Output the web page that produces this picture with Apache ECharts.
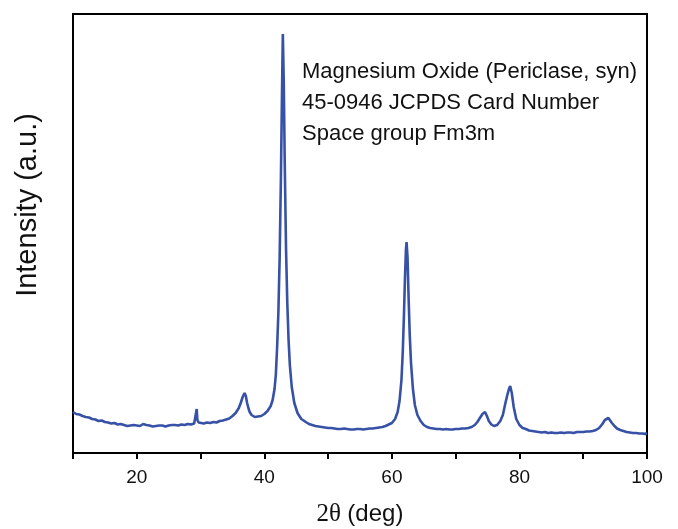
<!DOCTYPE html>
<html>
<meta charset="utf-8">
<head>
	<title>XRD MgO</title>
	<script src="https://cdn.jsdelivr.net/npm/echarts@6/dist/echarts.min.js"></script>
	<style type="text/css">
		html,body{margin:0;padding:0;background:#fff;}
		#main{width:678px;height:529px;}
	</style>
</head>
<body>
<div id="main"></div>
<script type="text/javascript">
// 2θ (deg) positions
var twoTheta = [
	10, 10.5, 11, 11.5, 12, 12.5, 13, 13.5, 14, 14.5, 15, 15.5, 16, 16.5, 17, 17.5, 18, 18.5, 19, 19.5,
	20, 20.5, 21, 21.5, 22, 22.5, 23, 23.5, 24, 24.5, 25, 25.5, 26, 26.5, 27, 27.5, 28, 28.5, 29, 29.3,
	29.4, 29.5, 29.7, 30, 30.5, 31, 31.5, 32, 32.5, 33, 33.5, 34, 34.5, 35, 35.5, 36, 36.3, 36.6, 36.9, 37.1,
	37.3, 37.5, 37.7, 38, 38.5, 39, 39.5, 40, 40.5, 41, 41.3, 41.6, 41.8, 42, 42.2, 42.4, 42.6, 42.75, 42.9, 43.05,
	43.2, 43.4, 43.6, 43.8, 44, 44.3, 44.7, 45.2, 45.8, 46.5, 47, 47.5, 48, 48.5, 49, 49.5, 50, 50.5, 51, 51.5,
	52, 52.5, 53, 53.5, 54, 54.5, 55, 55.5, 56, 56.5, 57, 57.5, 58, 58.5, 59, 59.5, 60, 60.5, 60.9, 61.2,
	61.5, 61.7, 61.9, 62.05, 62.2, 62.3, 62.45, 62.6, 62.8, 63, 63.3, 63.6, 64, 64.5, 65, 65.5, 66, 66.5, 67, 67.5,
	68, 68.5, 69, 69.5, 70, 70.5, 71, 71.5, 72, 72.5, 73, 73.4, 73.8, 74.2, 74.6, 74.9, 75.2, 75.6, 76, 76.5,
	77, 77.4, 77.8, 78.1, 78.35, 78.55, 78.8, 79.1, 79.5, 80, 80.5, 81, 81.5, 82, 82.5, 83, 83.5, 84, 84.5, 85,
	85.5, 86, 86.5, 87, 87.5, 88, 88.5, 89, 89.5, 90, 90.5, 91, 91.5, 92, 92.5, 93, 93.4, 93.7, 93.95, 94.2,
	94.5, 94.9, 95.3, 95.8, 96.3, 96.8, 97.3, 97.8, 98.3, 98.8, 99.3, 99.7, 100
];
// intensity in arbitrary units (0 = bottom of frame, 439 = top)
var intensity = [
	41, 39, 38.5, 37, 36, 35.5, 34, 33.5, 32, 32.5, 31, 30.5, 29.5, 30, 28.5, 29, 28, 27, 27.5, 28,
	27.5, 27, 29, 28, 27.5, 26.5, 27, 27.5, 27.5, 26.5, 27.5, 28, 28, 27.5, 28.5, 28, 29, 28.5, 29.5, 30,
	44, 33, 30.5, 30, 29.5, 30.5, 30, 31, 30.5, 32, 32.5, 33.5, 34.5, 37, 40, 45, 50, 56, 60, 57,
	50, 45, 41, 38, 36, 36.5, 37, 39, 42, 47, 53, 64, 78, 105, 140, 195, 275, 350, 419, 370,
	290, 205, 150, 113, 88, 66, 50, 40, 34, 31, 29, 28, 27, 26.5, 26, 25.5, 25, 25, 24.5, 24,
	24, 24.5, 24, 23.5, 23.5, 24, 24, 23.5, 24, 24.5, 24.5, 25, 25.5, 26, 27, 28.5, 30, 34, 41, 52,
	73, 100, 140, 175, 203, 211, 196, 160, 118, 90, 64, 48, 38, 32, 28, 26, 25, 24.5, 24, 24,
	23.5, 24, 23.5, 23.5, 24, 24, 24.5, 24.5, 25, 26, 28, 31, 35, 39, 41, 37, 32, 28.5, 27, 28,
	32, 38, 50, 58, 64, 67, 60, 46, 34, 28, 25, 24, 22.5, 22, 21.5, 21, 20.5, 21, 20, 20.5,
	20, 20, 20.5, 20, 20.5, 20.5, 20, 21, 21, 21, 21.5, 21.5, 22, 23, 25, 29, 33, 35, 35, 33.5,
	30, 27, 24.5, 23, 22, 21, 20.5, 20, 20, 19.5, 19.5, 19, 20
];
var xTicks = [10, 20, 30, 40, 50, 60, 70, 80, 90, 100];
var xLabels = [20, 40, 60, 80, 100];
var noteLines = [
	'Magnesium Oxide (Periclase, syn)',
	'45-0946 JCPDS Card Number',
	'Space group Fm3m'
];

var pts = twoTheta.map(function (t, i) { return [t, intensity[i]]; });

var chart = echarts.init(document.getElementById('main'), null, {renderer: 'canvas'});
var option = {
	animation: false,
	backgroundColor: '#fff',
	textStyle: {fontFamily: 'Liberation Sans, Arial, sans-serif'},
	grid: {
		left: 73, right: 31, top: 14, bottom: 76,
		show: true, borderColor: '#000', borderWidth: 2
	},
	xAxis: {
		type: 'value',
		min: xTicks[0], max: xTicks[xTicks.length - 1], interval: 10,
		axisLine: {onZero: false, lineStyle: {color: '#000', width: 2}},
		axisTick: {inside: false, length: 6, lineStyle: {color: '#000', width: 2}},
		axisLabel: {
			color: '#111', fontSize: 19, margin: 15,
			formatter: function (v) { return xLabels.indexOf(v) >= 0 ? String(v) : ''; }
		},
		splitLine: {show: false}
	},
	yAxis: {
		type: 'value', min: 0, max: 439,
		axisLine: {show: true, lineStyle: {color: '#000', width: 2}},
		axisTick: {show: false},
		axisLabel: {show: false},
		splitLine: {show: false}
	},
	series: [{
		type: 'line',
		data: pts,
		showSymbol: false,
		smooth: false,
		lineStyle: {color: '#3651a6', width: 2.6}
	}],
	graphic: [
		{
			type: 'text', x: 28, y: 205, rotation: Math.PI / 2,
			style: {
				text: 'Intensity (a.u.)', fill: '#111',
				font: '29px "Liberation Sans", Arial, sans-serif',
				textAlign: 'center', textVerticalAlign: 'middle'
			}
		},
		{
			type: 'text', x: 360, y: 514,
			style: {
				text: '{s|2\u03b8 }{a|(deg)}', fill: '#111',
				textAlign: 'center', textVerticalAlign: 'middle',
				rich: {
					s: {fontFamily: '"Liberation Serif", "Times New Roman", serif', fontSize: 25, fill: '#111'},
					a: {fontFamily: '"Liberation Sans", Arial, sans-serif', fontSize: 24, fill: '#111'}
				}
			}
		},
		{
			type: 'text', x: 302, y: 103,
			style: {
				text: noteLines.join('\n'), fill: '#111',
				font: '22px "Liberation Sans", Arial, sans-serif',
				lineHeight: 31, textVerticalAlign: 'middle'
			}
		}
	]
};
chart.setOption(option);
</script>
</body>
</html>
